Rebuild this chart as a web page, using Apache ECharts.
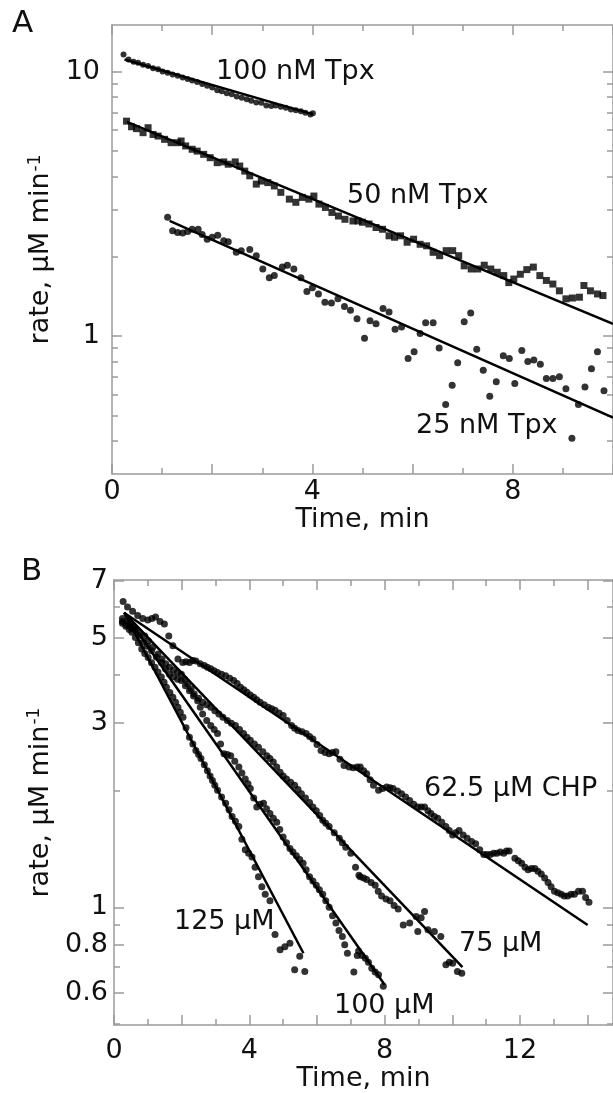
<!DOCTYPE html>
<html><head><meta charset="utf-8">
<script src="https://cdn.jsdelivr.net/npm/echarts@6/dist/echarts.min.js"></script>
<style>html,body{margin:0;padding:0;background:#fff}#c{width:613px;height:1093px}</style>
</head><body><div id="c"></div>
<script>
const FONT = 'DejaVu Sans';
// ---------- Panel A ----------
const a100 = [[0.23,11.6],[0.33,11.1],[0.43,10.9],[0.52,10.8],[0.62,10.6],[0.72,10.5],[0.82,10.3],[0.92,10.2],[1.01,10.0],[1.11,9.89],[1.21,9.75],[1.31,9.65],[1.41,9.5],[1.51,9.38],[1.60,9.25],[1.70,9.12],[1.80,8.98],[1.90,8.83],[2.00,8.70],[2.10,8.50],[2.19,8.42],[2.29,8.28],[2.39,8.20],[2.49,8.05],[2.59,7.95],[2.69,7.86],[2.78,7.76],[2.88,7.64],[2.98,7.62],[3.08,7.44],[3.18,7.40],[3.27,7.44],[3.37,7.36],[3.47,7.29],[3.57,7.19],[3.67,7.14],[3.77,7.08],[3.86,6.98],[3.96,6.88],[4.01,6.95]];
const a50 = [[0.29,6.49],[0.39,6.18],[0.49,6.08],[0.62,5.87],[0.72,6.13],[0.82,5.78],[0.92,5.70],[1.05,5.54],[1.18,5.38],[1.31,5.38],[1.38,5.46],[1.47,5.23],[1.60,5.08],[1.70,5.00],[1.83,4.86],[1.96,4.72],[2.10,4.52],[2.23,4.55],[2.32,4.46],[2.46,4.55],[2.55,4.39],[2.65,4.20],[2.75,4.03],[2.88,3.75],[2.98,3.85],[3.11,3.80],[3.24,3.69],[3.37,3.49],[3.54,3.29],[3.67,3.20],[3.80,3.34],[3.93,3.29],[4.03,3.38],[4.13,3.15],[4.26,3.06],[4.39,2.93],[4.52,2.84],[4.65,2.76],[4.81,2.72],[4.91,2.72],[5.00,2.69],[5.13,2.65],[5.27,2.57],[5.40,2.53],[5.53,2.39],[5.64,2.36],[5.76,2.39],[5.89,2.26],[6.02,2.32],[6.15,2.22],[6.28,2.19],[6.41,2.07],[6.54,2.01],[6.67,2.10],[6.80,2.10],[6.92,2.01],[7.03,1.84],[7.17,1.79],[7.30,1.79],[7.43,1.85],[7.56,1.79],[7.69,1.74],[7.82,1.69],[7.92,1.59],[8.02,1.64],[8.15,1.71],[8.28,1.78],[8.41,1.82],[8.54,1.69],[8.67,1.62],[8.80,1.57],[8.93,1.48],[9.06,1.38],[9.19,1.39],[9.33,1.40],[9.42,1.55],[9.55,1.48],[9.69,1.44],[9.80,1.42]];
const a25 = [[1.11,2.81],[1.21,2.50],[1.31,2.46],[1.41,2.45],[1.51,2.48],[1.60,2.53],[1.72,2.53],[1.80,2.42],[1.90,2.32],[2.00,2.36],[2.11,2.40],[2.23,2.29],[2.32,2.27],[2.48,2.07],[2.58,2.10],[2.75,2.12],[2.88,2.01],[3.01,1.79],[3.14,1.66],[3.24,1.69],[3.40,1.82],[3.50,1.85],[3.63,1.79],[3.77,1.66],[3.89,1.47],[4.00,1.52],[4.12,1.44],[4.25,1.34],[4.38,1.33],[4.51,1.38],[4.64,1.29],[4.76,1.25],[4.89,1.16],[5.04,0.98],[5.15,1.14],[5.27,1.11],[5.41,1.27],[5.53,1.23],[5.65,1.06],[5.78,1.08],[5.91,0.82],[6.03,0.87],[6.15,1.02],[6.26,1.12],[6.41,1.12],[6.53,0.90],[6.66,0.55],[6.79,0.65],[6.90,0.79],[7.03,1.13],[7.16,1.22],[7.28,0.89],[7.41,0.74],[7.54,0.59],[7.67,0.67],[7.81,0.84],[7.93,0.82],[8.04,0.66],[8.18,0.88],[8.30,0.80],[8.42,0.81],[8.55,0.78],[8.67,0.69],[8.80,0.69],[8.93,0.70],[9.06,0.63],[9.18,0.41],[9.31,0.55],[9.44,0.64],[9.57,0.75],[9.69,0.87],[9.82,0.62]];
const a100Fit = [[0.25,11.1],[4.0,6.9]];
const a50Fit = [[0.3,6.45],[10,1.11]];
const a25Fit = [[1.15,2.72],[10,0.49]];
const aXLabels = [0,4,8];
const aXMajor = [0,2,4,6,8,10];
const aXMinor = [1,3,5,7,9];
const aYLabels = [1,10];
const aYMinor = [0.4,0.5,0.6,0.7,0.8,0.9,2,3,4,5,6,7,8,9];
// ---------- Panel B ----------
const b62 = [[0.27,6.2],[0.4,6.0],[0.55,5.85],[0.7,5.7],[0.85,5.6],[1.0,5.55],[1.12,5.6],[1.23,5.65],[1.36,5.5],[1.49,5.42],[1.62,5.05],[1.74,4.76],[1.89,4.40],[2.03,4.31],[2.13,4.33],[2.23,4.31],[2.33,4.36],[2.42,4.35],[2.55,4.28],[2.67,4.23],[2.76,4.19],[2.86,4.15],[2.96,4.10],[3.06,4.06],[3.18,4.02],[3.30,3.98],[3.42,3.92],[3.54,3.87],[3.64,3.80],[3.74,3.72],[3.84,3.66],[3.93,3.61],[4.03,3.55],[4.13,3.50],[4.22,3.45],[4.32,3.40],[4.44,3.35],[4.56,3.30],[4.66,3.27],[4.76,3.24],[4.88,3.19],[5.00,3.14],[5.12,3.05],[5.25,2.96],[5.34,2.91],[5.44,2.87],[5.56,2.85],[5.68,2.82],[5.78,2.77],[5.88,2.73],[6.00,2.64],[6.12,2.55],[6.24,2.52],[6.36,2.50],[6.46,2.52],[6.56,2.53],[6.68,2.42],[6.80,2.33],[6.95,2.31],[7.07,2.30],[7.19,2.31],[7.28,2.31],[7.38,2.26],[7.47,2.22],[7.57,2.14],[7.67,2.07],[7.82,2.01],[7.94,2.03],[8.06,2.05],[8.16,2.04],[8.25,2.03],[8.38,2.00],[8.50,1.97],[8.62,1.93],[8.74,1.89],[8.86,1.85],[8.98,1.82],[9.08,1.82],[9.18,1.82],[9.28,1.78],[9.37,1.75],[9.47,1.72],[9.57,1.70],[9.69,1.66],[9.81,1.62],[9.91,1.58],[10.01,1.54],[10.10,1.56],[10.20,1.58],[10.32,1.54],[10.44,1.51],[10.57,1.48],[10.69,1.46],[10.81,1.41],[10.93,1.37],[11.02,1.37],[11.12,1.37],[11.22,1.38],[11.32,1.38],[11.42,1.39],[11.52,1.38],[11.60,1.40],[11.68,1.40],[11.85,1.34],[11.95,1.32],[12.05,1.30],[12.15,1.27],[12.24,1.25],[12.34,1.26],[12.44,1.26],[12.53,1.24],[12.63,1.22],[12.73,1.19],[12.83,1.16],[12.92,1.13],[13.02,1.10],[13.12,1.09],[13.22,1.08],[13.31,1.07],[13.41,1.07],[13.51,1.08],[13.61,1.08],[13.73,1.10],[13.85,1.10],[13.94,1.06],[14.04,1.03]];
const b75 = [[0.25,5.6],[0.38,5.5],[0.5,5.35],[0.62,5.25],[0.75,5.15],[0.91,5.05],[1.02,4.9],[1.15,4.72],[1.30,4.53],[1.42,4.40],[1.53,4.28],[1.64,4.19],[1.76,4.12],[1.88,4.06],[1.99,4.02],[2.09,3.90],[2.18,3.79],[2.28,3.68],[2.37,3.57],[2.50,3.48],[2.62,3.40],[2.74,3.35],[2.86,3.30],[2.98,3.23],[3.10,3.17],[3.22,3.11],[3.35,3.05],[3.47,3.00],[3.59,2.96],[3.71,2.89],[3.83,2.82],[3.93,2.76],[4.03,2.71],[4.15,2.65],[4.27,2.60],[4.40,2.53],[4.52,2.47],[4.61,2.43],[4.71,2.38],[4.81,2.31],[4.91,2.24],[5.00,2.19],[5.10,2.15],[5.22,2.11],[5.34,2.07],[5.44,2.02],[5.54,1.97],[5.66,1.92],[5.78,1.87],[5.88,1.82],[5.98,1.78],[6.08,1.73],[6.17,1.68],[6.26,1.65],[6.36,1.62],[6.51,1.56],[6.66,1.51],[6.75,1.47],[6.85,1.43],[7.00,1.38],[7.14,1.27],[7.24,1.21],[7.28,1.20],[7.38,1.19],[7.47,1.18],[7.60,1.16],[7.72,1.14],[7.81,1.10],[7.91,1.07],[8.04,1.05],[8.16,1.04],[8.28,1.01],[8.40,0.99],[8.55,0.90],[8.74,0.91],[8.93,0.946],[8.98,0.865],[9.08,0.94],[9.18,0.975],[9.28,0.874],[9.47,0.865],[9.66,0.84],[9.81,0.71],[9.91,0.72],[10.01,0.716],[10.15,0.682],[10.28,0.675]];
const b100 = [[0.25,5.5],[0.38,5.4],[0.50,5.3],[0.62,5.26],[0.75,5.05],[0.87,4.86],[0.99,4.75],[1.11,4.62],[1.25,4.45],[1.40,4.31],[1.52,4.15],[1.64,4.02],[1.76,3.96],[1.88,3.90],[1.99,3.87],[2.11,3.75],[2.23,3.64],[2.35,3.53],[2.47,3.43],[2.55,3.30],[2.62,3.17],[2.74,3.05],[2.86,2.96],[2.96,2.89],[3.06,2.82],[3.15,2.65],[3.25,2.50],[3.35,2.49],[3.45,2.47],[3.57,2.39],[3.69,2.31],[3.78,2.23],[3.88,2.15],[3.96,2.09],[4.03,2.03],[4.13,1.92],[4.22,1.82],[4.32,1.85],[4.42,1.86],[4.51,1.80],[4.61,1.75],[4.71,1.70],[4.81,1.66],[4.90,1.59],[5.00,1.52],[5.10,1.47],[5.20,1.42],[5.29,1.39],[5.39,1.36],[5.49,1.33],[5.59,1.30],[5.68,1.25],[5.78,1.20],[5.88,1.17],[5.98,1.14],[6.07,1.11],[6.17,1.08],[6.26,1.04],[6.36,1.00],[6.46,0.95],[6.56,0.91],[6.65,0.87],[6.75,0.84],[6.82,0.80],[6.90,0.76],[7.09,0.68],[7.19,0.75],[7.23,0.77],[7.33,0.75],[7.43,0.738],[7.52,0.72],[7.62,0.695],[7.72,0.68],[7.82,0.668],[7.96,0.624]];
const b125 = [[0.25,5.45],[0.35,5.35],[0.45,5.25],[0.53,5.16],[0.63,5.0],[0.72,4.85],[0.82,4.67],[0.91,4.55],[1.01,4.44],[1.11,4.30],[1.21,4.19],[1.30,4.07],[1.40,3.95],[1.48,3.83],[1.55,3.72],[1.65,3.60],[1.74,3.50],[1.82,3.40],[1.89,3.30],[1.96,3.20],[2.04,3.11],[2.13,2.92],[2.23,2.76],[2.33,2.65],[2.42,2.55],[2.50,2.49],[2.57,2.43],[2.67,2.34],[2.76,2.26],[2.84,2.19],[2.91,2.13],[2.98,2.07],[3.06,2.01],[3.18,1.93],[3.30,1.86],[3.40,1.79],[3.49,1.72],[3.59,1.67],[3.69,1.62],[3.78,1.50],[3.88,1.41],[3.98,1.38],[4.08,1.35],[4.17,1.27],[4.27,1.20],[4.37,1.13],[4.47,1.08],[4.61,1.04],[4.76,0.85],[4.91,0.776],[5.05,0.79],[5.20,0.807],[5.34,0.689],[5.49,0.746],[5.64,0.682]];
const b62Fit = [[0.3,5.8],[14.0,0.90]];
const b75Fit = [[0.3,5.8],[10.3,0.70]];
const b100Fit = [[0.3,5.8],[8.0,0.63]];
const b125Fit = [[0.3,5.8],[5.6,0.76]];
const bXLabels = [0,4,8,12];
const bXMajor = [0,2,4,6,8,10,12,14];
const bXMinor = [1,3,5,7,9,11,13];
const bYLabels = [0.6,0.8,1,3,5,7];
const bYMinor = [0.5,0.7,0.9,2,4,6];

const annotations = [
  {text:'100 nM Tpx', left:216, top:58},
  {text:'50 nM Tpx', left:347, top:182},
  {text:'25 nM Tpx', left:416, top:412},
  {text:'62.5 μM CHP', left:424, top:775},
  {text:'75 μM', left:459, top:930},
  {text:'100 μM', left:334, top:992},
  {text:'125 μM', left:174, top:908}
];

const AX = '#9a9a9a', TXT = '#111';
const lineS = {color: AX, width: 1.5};
function xAxes(g, max, labels, major, minor, margin, nameGap) {
  const base = {type:'value', gridIndex:g, min:0, max:max, splitLine:{show:false}};
  return [
    Object.assign({}, base, {position:'bottom', axisLine:{show:true, onZero:false, lineStyle:lineS},
      axisTick:{show:true, inside:true, length:10, customValues:major, lineStyle:lineS},
      axisLabel:{show:true, customValues:labels, margin:margin, fontFamily:FONT, fontSize:27, color:TXT},
      name:'Time, min', nameLocation:'middle', nameGap:nameGap, nameTextStyle:{fontFamily:FONT, fontSize:27, color:TXT}}),
    Object.assign({}, base, {position:'bottom', axisLine:{show:false, onZero:false},
      axisTick:{show:true, inside:true, length:6, customValues:minor, lineStyle:lineS}, axisLabel:{show:false}}),
    Object.assign({}, base, {position:'top', axisLine:{show:true, onZero:false, lineStyle:lineS},
      axisTick:{show:true, inside:true, length:10, customValues:major, lineStyle:lineS}, axisLabel:{show:false}}),
    Object.assign({}, base, {position:'top', axisLine:{show:false, onZero:false},
      axisTick:{show:true, inside:true, length:6, customValues:minor, lineStyle:lineS}, axisLabel:{show:false}})
  ];
}
function yAxes(g, min, max, labels, minor, margin, nameGap) {
  const base = {type:'log', logBase:10, gridIndex:g, min:min, max:max, splitLine:{show:false}, minorTick:{show:false}};
  return [
    Object.assign({}, base, {position:'left', axisLine:{show:true, onZero:false, lineStyle:lineS},
      axisTick:{show:true, inside:true, length:10, customValues:labels, lineStyle:lineS},
      axisLabel:{show:true, customValues:labels, margin:margin, fontFamily:FONT, fontSize:27, color:TXT},
      name:'{a|rate, μM min}{s|-1}', nameLocation:'middle', nameGap:nameGap,
      nameTextStyle:{fontFamily:FONT, fontSize:27, color:TXT,
        rich:{a:{fontFamily:FONT, fontSize:27, color:TXT}, s:{fontFamily:FONT, fontSize:17, color:TXT, verticalAlign:'top', padding:[0,0,12,1]}}}}),
    Object.assign({}, base, {position:'left', axisLine:{show:false, onZero:false},
      axisTick:{show:true, inside:true, length:6, customValues:minor, lineStyle:lineS}, axisLabel:{show:false}}),
    Object.assign({}, base, {position:'right', axisLine:{show:true, onZero:false, lineStyle:lineS},
      axisTick:{show:true, inside:true, length:10, customValues:labels, lineStyle:lineS}, axisLabel:{show:false}}),
    Object.assign({}, base, {position:'right', axisLine:{show:false, onZero:false},
      axisTick:{show:true, inside:true, length:6, customValues:minor, lineStyle:lineS}, axisLabel:{show:false}})
  ];
}
function dots(data, xi, yi, sym, size) {
  return {type:'scatter', xAxisIndex:xi, yAxisIndex:yi, data:data, symbol:sym||'circle', symbolSize:size||7,
    itemStyle:{color:'#000'}, silent:true, z:3};
}
function fit(data, xi, yi) {
  return {type:'line', xAxisIndex:xi, yAxisIndex:yi, data:data, showSymbol:false, symbol:'none',
    lineStyle:{color:'#000', width:2.5}, silent:true, z:4};
}

const chart = echarts.init(document.getElementById('c'), null, {renderer:'canvas'});
chart.setOption({
  animation:false,
  backgroundColor:'#fff',
  grid:[
    {left:112, top:25, width:507, height:449},
    {left:114, top:580, width:505, height:447}
  ],
  xAxis: xAxes(0, 10, aXLabels, aXMajor, aXMinor, 4, 32).concat(xAxes(1, 14.75, bXLabels, bXMajor, bXMinor, 12, 36)),
  yAxis: yAxes(0, 0.3, 15, aYLabels, aYMinor, 12, 52).concat(yAxes(1, 0.495, 7.05, bYLabels, bYMinor, 6, 52)),
  series:[
    dots(a100,0,0,'circle',6), fit(a100Fit,0,0),
    dots(a50,0,0,'rect',7), fit(a50Fit,0,0),
    dots(a25,0,0,'circle',7), fit(a25Fit,0,0),
    dots(b62,4,4), fit(b62Fit,4,4),
    dots(b75,4,4), fit(b75Fit,4,4),
    dots(b100,4,4), fit(b100Fit,4,4),
    dots(b125,4,4), fit(b125Fit,4,4)
  ],
  graphic: annotations.map(a => ({type:'text', left:a.left, top:a.top,
      style:{text:a.text, font:'27px "' + FONT + '"', fill:TXT}, silent:true}))
    .concat([
      {type:'text', left:12, top:8, style:{text:'A', font:'31px "' + FONT + '"', fill:TXT}},
      {type:'text', left:21, top:556, style:{text:'B', font:'31px "' + FONT + '"', fill:TXT}}
    ])
});
</script></body></html>
